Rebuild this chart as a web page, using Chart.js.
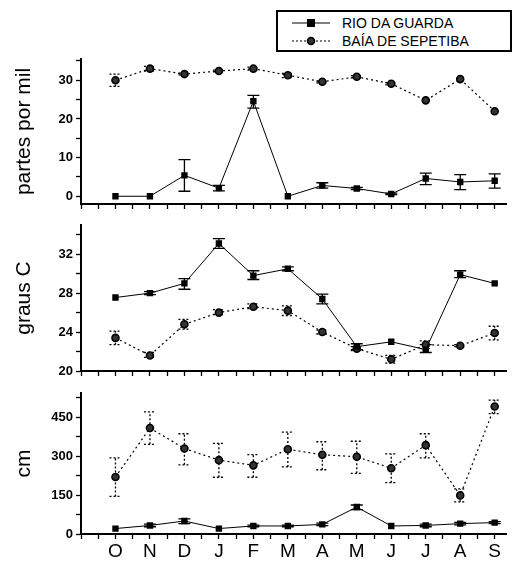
<!DOCTYPE html>
<html>
<head>
<meta charset="utf-8">
<script src="https://cdn.jsdelivr.net/npm/chart.js@4.4.1/dist/chart.umd.min.js"></script>
<style>
  body { margin: 0; background: #fff; }
  #wrap { position: relative; width: 512px; height: 564px; overflow: hidden; font-family: 'Liberation Sans', Arial, sans-serif; }
  canvas { position: absolute; left: 0; }
  #legend { position: absolute; left: 276px; top: 10px; width: 232px; height: 38px; border: 2px solid #000; background: #fff; z-index: 2; }
  .row { position: absolute; left: 12px; height: 18px; display: flex; align-items: center; font-size: 14px; color: #000; }
  .row svg { margin-right: 10px; }
</style>
</head>
<body>
<div id="wrap">
  <canvas id="sal" width="512" height="215" style="top:0"></canvas>
  <canvas id="temp" width="512" height="172" style="top:210px"></canvas>
  <canvas id="depth" width="512" height="182" style="top:382px"></canvas>
  <div id="legend">
    <div class="row" style="top:2px">
      <svg width="42" height="10"><line x1="2" y1="5" x2="40" y2="5" stroke="#000" stroke-width="1.2"/><rect x="17" y="1" width="8" height="8" fill="#000"/></svg>RIO DA GUARDA
    </div>
    <div class="row" style="top:20px">
      <svg width="42" height="10"><line x1="2" y1="5" x2="40" y2="5" stroke="#000" stroke-width="1.2" stroke-dasharray="2,2"/><circle cx="21" cy="5" r="3.5" fill="#333" stroke="#000" stroke-width="1.5"/></svg>BAÍA DE SEPETIBA
    </div>
  </div>
</div>
<script>
let months = ["O", "N", "D", "J", "F", "M", "A", "M", "J", "J", "A", "S"];
let seriesNames = ["RIO DA GUARDA", "BAÍA DE SEPETIBA"];

// salinidade (partes por mil)
let salRio   = [0, 0, 5.4, 2.1, 24.6, 0, 2.8, 2.0, 0.6, 4.6, 3.7, 4.0];
let salRioLo = [0, 0, 1.3, 1.4, 22.8, 0, 2.1, 1.7, 0.4, 3.0, 1.7, 2.1];
let salRioHi = [0, 0, 9.5, 2.8, 26.1, 0, 3.5, 2.3, 0.8, 6.0, 5.6, 5.8];
let salBaia   = [30, 33, 31.6, 32.4, 33, 31.3, 29.6, 30.9, 29.1, 24.8, 30.3, 22];
let salBaiaLo = [28.4, 32.4, 31.4, 32.2, 32.6, 30.7, 29.3, 30.6, 28.8, 24.8, 30.3, 22];
let salBaiaHi = [31.6, 33.6, 31.8, 32.6, 33.4, 31.8, 29.8, 31.2, 29.4, 24.8, 30.3, 22];

// temperatura (graus C)
let tempRio   = [27.55, 28.0, 29.0, 33.1, 29.8, 30.5, 27.4, 22.5, 23.0, 22.2, 29.9, 29.0];
let tempRioLo = [27.55, 27.85, 28.4, 32.6, 29.4, 30.3, 26.9, 22.2, 23.0, 21.9, 29.6, 29.0];
let tempRioHi = [27.55, 28.15, 29.5, 33.6, 30.3, 30.7, 27.9, 22.8, 23.0, 22.7, 30.3, 29.0];
let tempBaia   = [23.4, 21.6, 24.8, 26.0, 26.6, 26.2, 24.0, 22.3, 21.2, 22.7, 22.6, 23.9];
let tempBaiaLo = [22.7, 21.4, 24.3, 25.8, 26.4, 25.7, 23.8, 22.1, 20.8, 22.3, 22.5, 23.2];
let tempBaiaHi = [24.1, 21.9, 25.3, 26.3, 26.9, 26.7, 24.2, 22.5, 21.6, 23.1, 22.7, 24.6];

// transparencia (cm)
let depthRio   = [21, 33, 50, 21, 31, 31, 37, 104, 31, 33, 40, 44];
let depthRioLo = [21, 28, 40, 21, 28, 28, 32, 94, 31, 28, 35, 40];
let depthRioHi = [21, 38, 58, 21, 34, 34, 42, 112, 31, 38, 45, 48];
let depthBaia   = [220, 409, 330, 285, 265, 327, 306, 298, 254, 343, 149, 492];
let depthBaiaLo = [145, 346, 267, 219, 219, 259, 248, 234, 198, 294, 124, 465];
let depthBaiaHi = [294, 471, 387, 350, 306, 393, 356, 358, 309, 387, 174, 517];

// tick positions
let xTicks = [-1, -0.5, 0, 0.5, 1, 1.5, 2, 2.5, 3, 3.5, 4, 4.5, 5, 5.5, 6, 6.5, 7, 7.5, 8, 8.5, 9, 9.5, 10, 10.5, 11];
let salTicks = [0, 5, 10, 15, 20, 25, 30, 35];
let tempTicks = [20, 22, 24, 26, 28, 30, 32, 34];
let depthTicks = [0, 75, 150, 225, 300, 375, 450, 525];

const FONT = "'Liberation Sans', Arial, sans-serif";

// error bars drawn under the points
const errorBars = {
  id: 'errorBars',
  beforeDatasetsDraw(chart) {
    const ctx = chart.ctx;
    const y = chart.scales.y;
    chart.data.datasets.forEach((ds, di) => {
      if (!ds.errLo) return;
      const meta = chart.getDatasetMeta(di);
      ctx.save();
      ctx.strokeStyle = '#000';
      ctx.lineWidth = 1.3;
      ctx.setLineDash(ds.errDash || []);
      meta.data.forEach((pt, i) => {
        let lo = ds.errLo[i], hi = ds.errHi[i];
        if (hi - lo <= 0) return;
        let yl = y.getPixelForValue(lo), yh = y.getPixelForValue(hi);
        ctx.beginPath();
        ctx.moveTo(pt.x, yl); ctx.lineTo(pt.x, yh);
        ctx.moveTo(pt.x - 6, yl); ctx.lineTo(pt.x + 6, yl);
        ctx.moveTo(pt.x - 6, yh); ctx.lineTo(pt.x + 6, yh);
        ctx.stroke();
      });
      ctx.restore();
    });
  }
};

function points(vals) {
  return vals.map((v, i) => ({ x: i, y: v }));
}

function makePanel(id, o) {
  let ctx = document.getElementById(id).getContext('2d');
  return new Chart(ctx, {
    type: 'line',
    data: {
      datasets: [
        {
          label: seriesNames[0],
          data: points(o.rio),
          errLo: o.rioLo, errHi: o.rioHi, errDash: [],
          borderColor: '#000',
          borderWidth: 1,
          pointStyle: 'rect',
          pointRadius: 4.5,
          pointBackgroundColor: '#000',
          pointBorderColor: '#000',
          pointBorderWidth: 0
        },
        {
          label: seriesNames[1],
          data: points(o.baia),
          errLo: o.baiaLo, errHi: o.baiaHi, errDash: [2, 2],
          borderColor: '#000',
          borderWidth: 1.2,
          borderDash: [2, 3],
          pointStyle: 'circle',
          pointRadius: 3.5,
          pointBackgroundColor: '#333',
          pointBorderColor: '#000',
          pointBorderWidth: 1.6
        }
      ]
    },
    options: {
      responsive: false,
      animation: false,
      devicePixelRatio: 1,
      layout: { padding: { top: o.padTop, left: 0, right: 0, bottom: 0 } },
      plugins: { legend: { display: false }, tooltip: { enabled: false } },
      scales: {
        x: {
          type: 'linear',
          min: -1,
          max: 11.34,
          afterBuildTicks: s => { s.ticks = xTicks.map(v => ({ value: v })); },
          afterFit: s => { s.height = o.xHeight; },
          grid: { drawOnChartArea: false, drawTicks: true, tickLength: 5, color: '#000', tickWidth: 1.3 },
          border: { display: true, color: '#000', width: 2 },
          ticks: {
            autoSkip: false,
            maxRotation: 0,
            padding: 1,
            color: '#000',
            font: { family: FONT, size: 19 },
            callback: v => (o.showMonths && Number.isInteger(v) && v >= 0) ? months[v] : ''
          }
        },
        y: {
          min: o.min,
          max: o.max,
          afterBuildTicks: s => { s.ticks = o.ticks.map(v => ({ value: v })); },
          afterFit: s => { s.width = 81; },
          grid: { drawOnChartArea: false, drawTicks: true, tickLength: 5, color: '#000', tickWidth: 1.3 },
          border: { display: true, color: '#000', width: 2 },
          ticks: {
            padding: 3,
            color: '#000',
            font: { family: FONT, size: 13, weight: 'bold' },
            callback: v => (v % o.major === 0) ? v : ''
          },
          title: {
            display: true,
            text: o.title,
            color: '#000',
            font: { family: FONT, size: 21 },
            padding: { top: 12, bottom: 0 }
          }
        }
      }
    },
    plugins: [errorBars]
  });
}

makePanel('sal', {
  rio: salRio, rioLo: salRioLo, rioHi: salRioHi,
  baia: salBaia, baiaLo: salBaiaLo, baiaHi: salBaiaHi,
  min: -2, max: 35.5, ticks: salTicks, major: 10,
  title: 'partes por mil', padTop: 59, xHeight: 11, showMonths: false
});

makePanel('temp', {
  rio: tempRio, rioLo: tempRioLo, rioHi: tempRioHi,
  baia: tempBaia, baiaLo: tempBaiaLo, baiaHi: tempBaiaHi,
  min: 20, max: 35, ticks: tempTicks, major: 4,
  title: 'graus C', padTop: 15, xHeight: 11, showMonths: false
});

makePanel('depth', {
  rio: depthRio, rioLo: depthRioLo, rioHi: depthRioHi,
  baia: depthBaia, baiaLo: depthBaiaLo, baiaHi: depthBaiaHi,
  min: 0, max: 545, ticks: depthTicks, major: 150,
  title: 'cm', padTop: 6, xHeight: 30, showMonths: true
});
</script>
</body>
</html>
